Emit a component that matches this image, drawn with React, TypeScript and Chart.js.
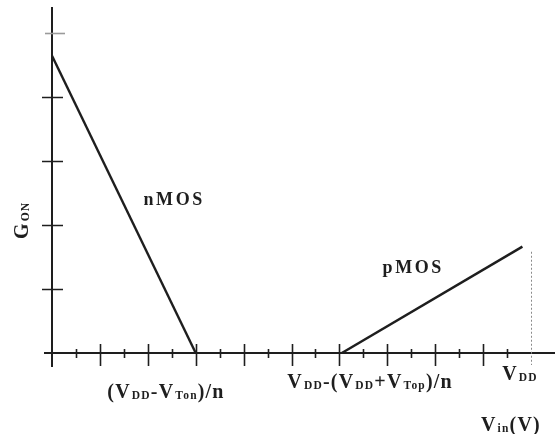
import React, { useEffect, useRef } from "react";
import { Chart, registerables } from "chart.js";

Chart.register(...registerables);

// Conductance curves (x in tick units along Vin, y in tick units of G_ON)
const nmosX = [0, 3];
const nmosY = [4.64, 0];
const pmosX = [6.05, 9.82];
const pmosY = [0, 1.66];

// Axis ticks
const xMajorTicks = [1, 2, 3, 4, 5, 6, 7, 8, 9];
const xMinorTicks = [0.5, 1.5, 2.5, 3.5, 4.5, 5.5, 6.5, 7.5, 8.5, 9.5];
const yTicks = [1, 2, 3, 4];
const yTopTick = 5;
const vddX = 10;
const vddMarkerTop = 1.58;

type Seg = { t: string; sub?: boolean };

// Tick labels written as runs of normal text and subscripts
const xLabels: { at: number; dy: number; segs: Seg[] }[] = [
  {
    at: 2.38,
    dy: 45,
    segs: [{ t: "(V" }, { t: "DD", sub: true }, { t: "-V" }, { t: "Ton", sub: true }, { t: ")/n" }],
  },
  {
    at: 6.64,
    dy: 35,
    segs: [
      { t: "V" },
      { t: "DD", sub: true },
      { t: "-(V" },
      { t: "DD", sub: true },
      { t: "+V" },
      { t: "Top", sub: true },
      { t: ")/n" },
    ],
  },
  { at: 9.77, dy: 27, segs: [{ t: "V" }, { t: "DD", sub: true }] },
];
const xTitle: Seg[] = [{ t: "V" }, { t: "in", sub: true }, { t: "(V)" }];
const yTitle: Seg[] = [{ t: "G" }, { t: "ON", sub: true }];
const nmosLabel = "nMOS";
const pmosLabel = "pMOS";

const INK = "#1e1e1e";
const MAIN_FONT = 'bold 20px "Liberation Serif"';
const SUB_FONT = 'bold 11.5px "Liberation Serif"';
const SPACING = "1.2px";

function segWidth(ctx: CanvasRenderingContext2D, segs: Seg[]) {
  let w = 0;
  for (const s of segs) {
    ctx.font = s.sub ? SUB_FONT : MAIN_FONT;
    w += ctx.measureText(s.t).width + (s.sub ? 1 : 0);
  }
  return w;
}

function drawSegs(ctx: CanvasRenderingContext2D, segs: Seg[], cx: number, baseline: number) {
  (ctx as any).letterSpacing = SPACING;
  let x = cx - segWidth(ctx, segs) / 2;
  ctx.textAlign = "left";
  ctx.textBaseline = "alphabetic";
  for (const s of segs) {
    ctx.font = s.sub ? SUB_FONT : MAIN_FONT;
    const off = s.sub ? 1 : 0;
    ctx.fillText(s.t, x + off, baseline + (s.sub ? 1 : 0));
    x += ctx.measureText(s.t).width + (s.sub ? 1 : 0);
  }
  (ctx as any).letterSpacing = "0px";
}

const axesPlugin = {
  id: "hand-axes",
  afterDatasetsDraw(chart: any) {
    const ctx: CanvasRenderingContext2D = chart.ctx;
    const xs = chart.scales.x;
    const ys = chart.scales.y;
    const x0 = xs.getPixelForValue(0);
    const y0 = ys.getPixelForValue(0);
    const right = chart.chartArea.right;
    const top = chart.chartArea.top;

    ctx.save();
    ctx.strokeStyle = INK;
    ctx.fillStyle = INK;

    // axis lines
    ctx.lineWidth = 2;
    ctx.beginPath();
    ctx.moveTo(x0 - 8, y0);
    ctx.lineTo(right, y0);
    ctx.moveTo(x0, top);
    ctx.lineTo(x0, y0 + 14);
    ctx.stroke();

    // x ticks
    ctx.lineWidth = 1.6;
    ctx.beginPath();
    for (const v of xMajorTicks) {
      const px = Math.round(xs.getPixelForValue(v)) + 0.5;
      ctx.moveTo(px, y0 - 9);
      ctx.lineTo(px, y0 + 13);
    }
    for (const v of xMinorTicks) {
      const px = Math.round(xs.getPixelForValue(v)) + 0.5;
      ctx.moveTo(px, y0 - 4);
      ctx.lineTo(px, y0 + 5);
    }
    ctx.stroke();

    // y ticks
    ctx.beginPath();
    for (const v of yTicks) {
      const py = Math.round(ys.getPixelForValue(v)) + 0.5;
      ctx.moveTo(x0 - 10, py);
      ctx.lineTo(x0 + 11, py);
    }
    ctx.stroke();
    ctx.strokeStyle = "#9a9a9a";
    ctx.beginPath();
    const pt = Math.round(ys.getPixelForValue(yTopTick)) + 0.5;
    ctx.moveTo(x0 - 7, pt);
    ctx.lineTo(x0 + 13, pt);
    ctx.stroke();

    // dashed VDD marker
    ctx.strokeStyle = "#8a8a8a";
    ctx.lineWidth = 1;
    ctx.setLineDash([2, 2]);
    ctx.beginPath();
    const vx = Math.round(xs.getPixelForValue(vddX)) + 0.5;
    ctx.moveTo(vx, ys.getPixelForValue(vddMarkerTop));
    ctx.lineTo(vx, y0 + 12);
    ctx.stroke();
    ctx.setLineDash([]);

    // tick labels and titles
    ctx.fillStyle = INK;
    for (const l of xLabels) {
      drawSegs(ctx, l.segs, xs.getPixelForValue(l.at), y0 + l.dy);
    }
    drawSegs(ctx, xTitle, xs.getPixelForValue(9.58), y0 + 78);

    ctx.save();
    ctx.translate(28, ys.getPixelForValue(2.07));
    ctx.rotate(-Math.PI / 2);
    drawSegs(ctx, yTitle, 0, 0);
    ctx.restore();

    // series names
    ctx.font = 'bold 18px "Liberation Serif"';
    (ctx as any).letterSpacing = "2.6px";
    ctx.textAlign = "left";
    ctx.fillText(nmosLabel, xs.getPixelForValue(1.91), ys.getPixelForValue(2.31));
    ctx.fillText(pmosLabel, xs.getPixelForValue(6.9), ys.getPixelForValue(1.25));
    (ctx as any).letterSpacing = "0px";

    ctx.restore();
  },
};

export default function App() {
  const ref = useRef<HTMLCanvasElement | null>(null);

  useEffect(() => {
    if (!ref.current) return;
    const chart = new Chart(ref.current, {
      type: "scatter",
      data: {
        datasets: [
          {
            label: nmosLabel,
            data: nmosX.map((x, i) => ({ x, y: nmosY[i] })),
            showLine: true,
            borderColor: INK,
            borderWidth: 2.4,
            pointRadius: 0,
          },
          {
            label: pmosLabel,
            data: pmosX.map((x, i) => ({ x, y: pmosY[i] })),
            showLine: true,
            borderColor: INK,
            borderWidth: 2.4,
            pointRadius: 0,
          },
        ],
      },
      options: {
        animation: false,
        responsive: false,
        layout: { padding: { left: 52, right: 4, top: 7, bottom: 81 } },
        plugins: { legend: { display: false }, tooltip: { enabled: false } },
        scales: {
          x: { type: "linear", min: 0, max: 10.5, display: false },
          y: { type: "linear", min: 0, max: 5.4, display: false },
        },
      },
      plugins: [axesPlugin],
    });
    return () => chart.destroy();
  }, []);

  return (
    <div style={{ position: "fixed", left: 0, top: 0, width: 559, height: 434, background: "#fff" }}>
      <canvas ref={ref} width={559} height={434} />
    </div>
  );
}
